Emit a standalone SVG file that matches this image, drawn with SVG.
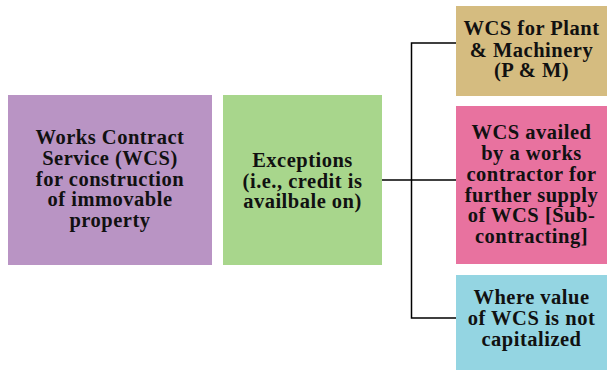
<svg xmlns="http://www.w3.org/2000/svg" width="607" height="370" viewBox="0 0 607 370">
  <style>
    .lbl { font-family: "Liberation Serif", "Times New Roman", serif; font-weight: bold; font-size: 20.5px; letter-spacing: 0.5px; fill: #111; text-anchor: middle; }
    .wire { fill: none; stroke: #000; stroke-width: 1.5; }
  </style>
  <rect width="607" height="370" fill="#ffffff"/>

  <!-- connectors: bracket from the exceptions box to the three cases -->
  <g id="connectors">
    <path class="wire" d="M382 180 H411.5"/>
    <path class="wire" d="M456 43 H411.5 V318 H456"/>
    <path class="wire" d="M411.5 180 H456"/>
  </g>

  <g id="wcs-immovable">
    <rect x="8" y="95" width="204" height="170" fill="#b994c4"/>
    <text class="lbl" x="110" y="144.3">Works Contract</text>
    <text class="lbl" x="110" y="164.9">Service (WCS)</text>
    <text class="lbl" x="110" y="185.5">for construction</text>
    <text class="lbl" x="110" y="206.1">of immovable</text>
    <text class="lbl" x="110" y="226.7">property</text>
  </g>

  <g id="exceptions">
    <rect x="223" y="95" width="159" height="170" fill="#a8d68c"/>
    <text class="lbl" x="302.5" y="167.3">Exceptions</text>
    <text class="lbl" x="302.5" y="187.8">(i.e., credit is</text>
    <text class="lbl" x="302.5" y="208.3">availbale on)</text>
  </g>

  <g id="plant-machinery">
    <rect x="456" y="6" width="151" height="90" fill="#d5bc80"/>
    <text class="lbl" x="531.5" y="35">WCS for Plant</text>
    <text class="lbl" x="531.5" y="56.5">&amp; Machinery</text>
    <text class="lbl" x="531.5" y="77.3">(P &amp; M)</text>
  </g>

  <g id="sub-contracting">
    <rect x="456" y="106" width="151" height="158" fill="#e8729f"/>
    <text class="lbl" x="531.5" y="139">WCS availed</text>
    <text class="lbl" x="531.5" y="160">by a works</text>
    <text class="lbl" x="531.5" y="181">contractor for</text>
    <text class="lbl" x="531.5" y="201.7">further supply</text>
    <text class="lbl" x="531.5" y="222.3">of WCS [Sub-</text>
    <text class="lbl" x="531.5" y="242.7">contracting]</text>
  </g>

  <g id="not-capitalized">
    <rect x="456" y="275" width="151" height="95" fill="#94d5e2"/>
    <text class="lbl" x="531.5" y="304.3">Where value</text>
    <text class="lbl" x="531.5" y="325">of WCS is not</text>
    <text class="lbl" x="531.5" y="346">capitalized</text>
  </g>
</svg>
